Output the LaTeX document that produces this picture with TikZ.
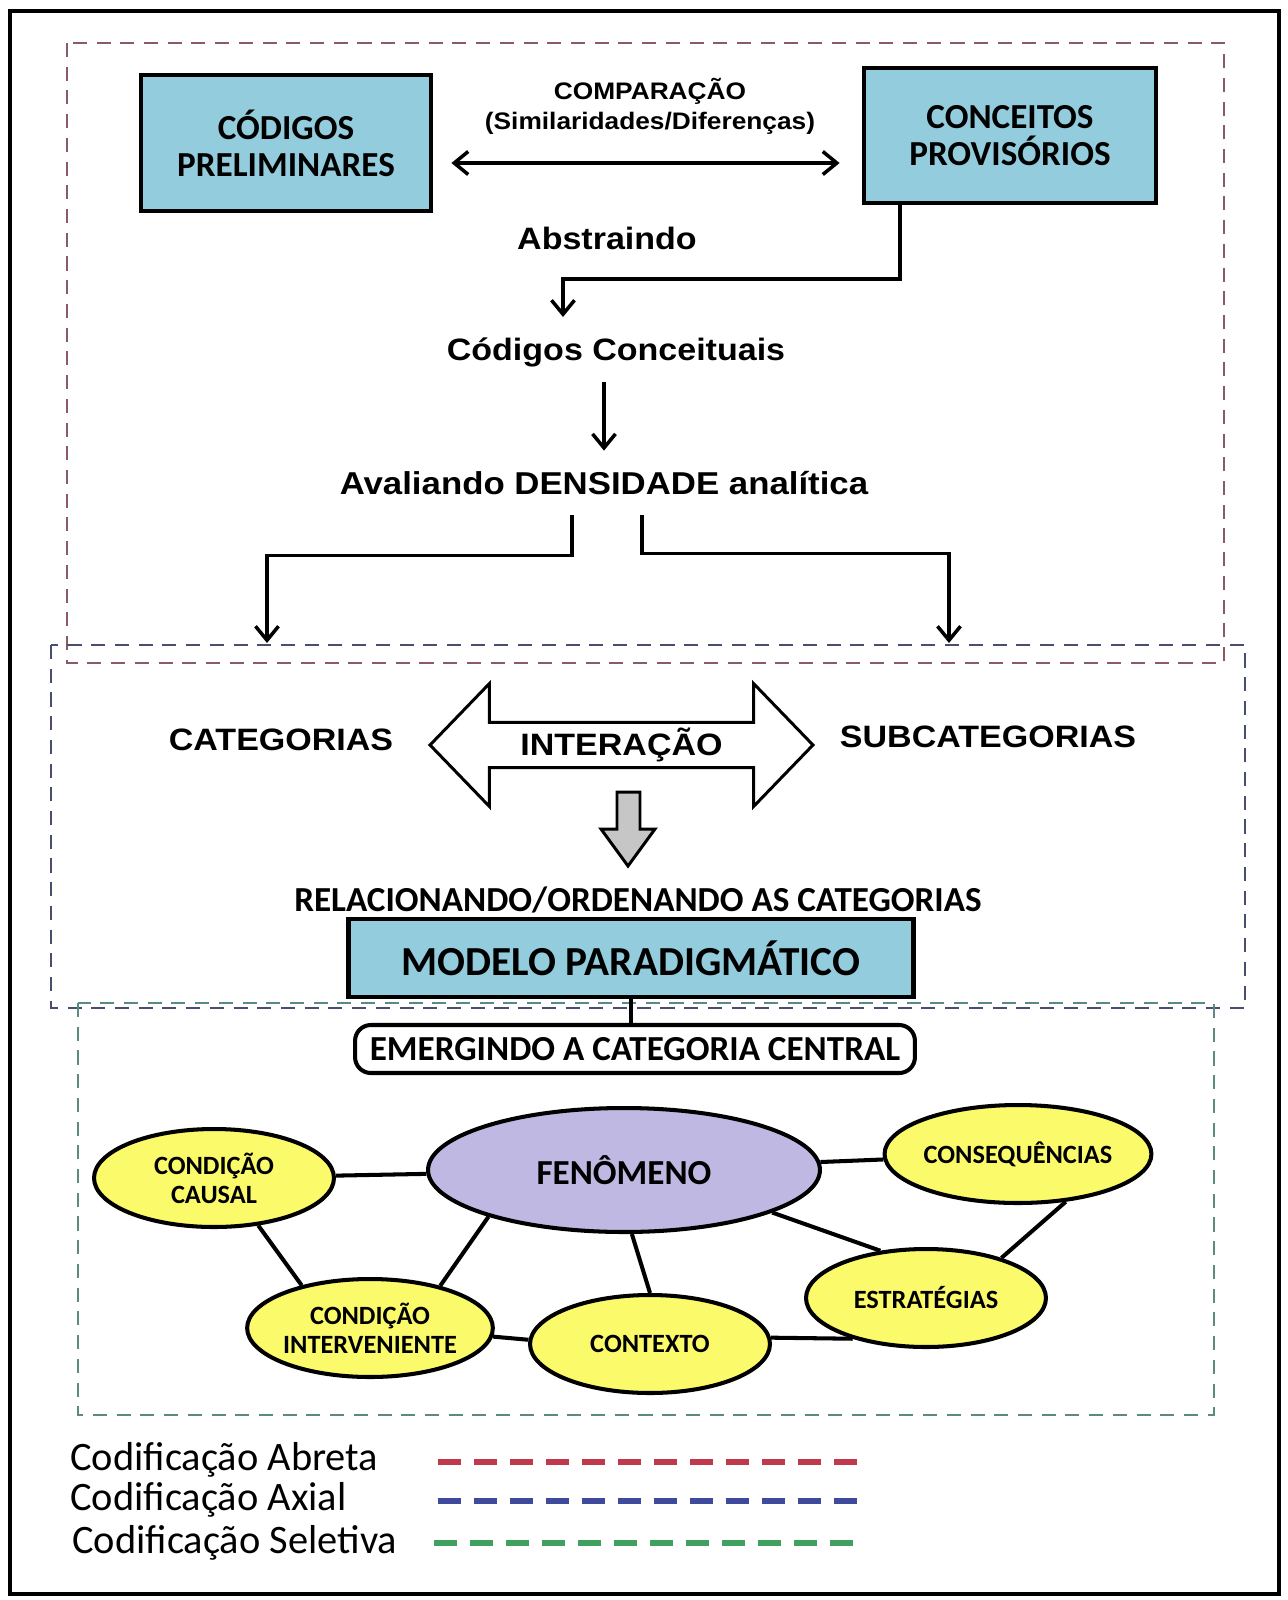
\documentclass[tikz,border=0pt]{standalone}
\usepackage{xcolor}
\usepackage{fontspec}
\setmainfont{Carlito}
\newfontfamily\arialfont[FakeStretch=1.1]{Liberation Sans}
\usetikzlibrary{arrows.meta, shapes.geometric, shapes.arrows}
\definecolor{boxBlue}{HTML}{93CDDD}
\definecolor{ellYellow}{HTML}{FAFA6A}
\definecolor{fenLav}{HTML}{BFB8E2}
\definecolor{openCol}{HTML}{8A5A66}
\definecolor{axialCol}{HTML}{4A4D72}
\definecolor{selCol}{HTML}{5A8A80}
\definecolor{legRed}{HTML}{C0394B}
\definecolor{legBlue}{HTML}{3F4A9C}
\definecolor{legGreen}{HTML}{3FA060}

\begin{document}
\begin{tikzpicture}[x=0.02cm, y=-0.02cm,
    codebox/.style={draw, line width=2.8pt, fill=boxBlue, align=center, inner sep=0pt,
      font=\bfseries\fontsize{20}{21}\selectfont},
    ellnode/.style={ellipse, draw, line width=2.3pt, fill=ellYellow, align=center, inner sep=0pt,
      minimum width=4.8cm, minimum height=1.96cm, font=\bfseries\fontsize{15}{16.5}\selectfont},
    txt/.style={font=\arialfont\bfseries\fontsize{17.6}{19}\selectfont, align=center, inner sep=0pt},
    arr/.style={-{Straight Barb[length=2.8mm,width=4.6mm]}, line width=2pt},
    conn/.style={line width=2.3pt},
    zone/.style={dash pattern=on 8pt off 5.5pt, line width=0.8pt},
    legline/.style={dash pattern=on 13pt off 7.5pt, line width=2.9pt}]
    \useasboundingbox (0,0) rectangle (1288,1600);
    \draw[line width=2.3pt] (10,11) rectangle (1279,1594);

    % coding zones
    \draw[zone, openCol] (67,43) rectangle (1224,663);
    \draw[zone, axialCol] (51,645) rectangle (1245,1008);
    \draw[zone, selCol] (78,1003) rectangle (1214,1415);

    % open coding
    \node[codebox, minimum width=5.8cm, minimum height=2.72cm] (prelim) at (286,143) {CÓDIGOS\\PRELIMINARES};
    \node[codebox, minimum width=5.84cm, minimum height=2.7cm] (provis) at (1010,135.5) {CONCEITOS\\PROVISÓRIOS};
    \node[txt, font=\arialfont\bfseries\fontsize{13.6}{17}\selectfont] (comp) at (650,106) {COMPARAÇÃO\\(Similaridades/Diferenças)};
    \coordinate (cmpy) at (0,163);
    \draw[arr, {Straight Barb[length=2.8mm,width=4.6mm]}-{Straight Barb[length=2.8mm,width=4.6mm]}, shorten <=0.36cm, shorten >=0.44cm]
      (prelim.east |- cmpy) -- (provis.west |- cmpy);
    \node[txt] (abst) at (607,238) {Abstraindo};
    \coordinate (absk) at (900,279);
    \coordinate (abse) at (563,317);
    \draw[arr] (provis.south -| absk) -- (absk) -| (abse);
    \node[txt, minimum height=1.2cm] (codconc) at (616,352) {Códigos Conceituais};
    \node[txt, font=\arialfont\bfseries\fontsize{18}{19}\selectfont, minimum height=1.28cm] (aval) at (604,483) {Avaliando DENSIDADE analítica};
    \draw[arr] (codconc.south -| aval.north) -- (aval.north);
    \coordinate (catL) at (267,643);
    \coordinate (catR) at (949,643);
    \draw[arr] ([xshift=-0.64cm]aval.south) -- ++(0,40) -| (catL);
    \draw[arr] ([xshift=0.76cm]aval.south) -- ++(0,38) -| (catR);

    % axial coding
    \node[txt] (categ) at (281,740) {CATEGORIAS};
    \node[txt] (subcateg) at (988,737) {SUBCATEGORIAS};
    \node[double arrow, draw, line width=1.7pt, fill=white, txt, minimum height=7.66cm, minimum width=2.46cm,
      double arrow head extend=0.63cm, double arrow tip angle=92] (inter) at (621.5,745) {INTERAÇÃO};
    \filldraw[line width=1.7pt, fill=gray!45, line join=miter]
      (617,792) -- (640,792) -- (640,829) -- (655,829) -- (628,866) -- (601,829) -- (617,829) -- cycle;
    \node[font=\bfseries\fontsize{20}{21}\selectfont, inner sep=0pt] (relac) at (638,900) {RELACIONANDO/ORDENANDO AS CATEGORIAS};
    \node[codebox, font=\bfseries\fontsize{23.5}{24}\selectfont, minimum width=11.3cm, minimum height=1.56cm] (modelo) at (631,958) {MODELO PARADIGMÁTICO};

    % selective coding
    \node[draw, line width=2.3pt, rounded corners=9pt, fill=white, minimum width=11.2cm, minimum height=0.96cm, inner sep=0pt,
      font=\bfseries\fontsize{20}{21}\selectfont] (emerg) at (635,1049) {EMERGINDO A CATEGORIA CENTRAL};
    \draw[conn] (modelo.south) -- (modelo.south |- emerg.north);

    \node[ellnode, fill=fenLav, minimum width=7.84cm, minimum height=2.48cm, font=\bfseries\fontsize{20}{21}\selectfont] (fen) at (624,1170) {FENÔMENO};
    \node[ellnode] (causal) at (214,1178) {CONDIÇÃO\\CAUSAL};
    \node[ellnode] (cons) at (1018,1154) {CONSEQUÊNCIAS};
    \node[ellnode] (interv) at (370,1328) {CONDIÇÃO\\INTERVENIENTE};
    \node[ellnode] (ctx) at (650,1344) {CONTEXTO};
    \node[ellnode] (estr) at (926,1298) {ESTRATÉGIAS};
    \draw[conn] (causal) -- (fen);
    \draw[conn] (fen) -- (cons);
    \draw[conn] (causal.-47) -- (interv.148);
    \draw[conn] (fen.199) -- (interv.31);
    \draw[conn] (fen.-83) -- (ctx.90);
    \draw[conn] (fen.-16) -- (estr.134);
    \draw[conn] (cons.-45) -- (estr.28);
    \draw[conn] (interv.-4) -- (ctx.178);
    \draw[conn] (ctx.3) -- (estr.209);

    % legend
    \node[anchor=west, inner sep=0pt, font=\fontsize{23}{24}\selectfont] (legA) at (70,1460) {Codificação Abreta};
    \node[anchor=west, inner sep=0pt, font=\fontsize{23}{24}\selectfont] (legB) at (70,1500) {Codificação Axial};
    \node[anchor=west, inner sep=0pt, font=\fontsize{23}{24}\selectfont] (legC) at (72,1543) {Codificação Seletiva};
    \draw[legline, legRed] (438,1462) -- (858,1462);
    \draw[legline, legBlue] (438,1501) -- (860,1501);
    \draw[legline, legGreen] (434,1543) -- (862,1543);
  \end{tikzpicture}
\end{document}
